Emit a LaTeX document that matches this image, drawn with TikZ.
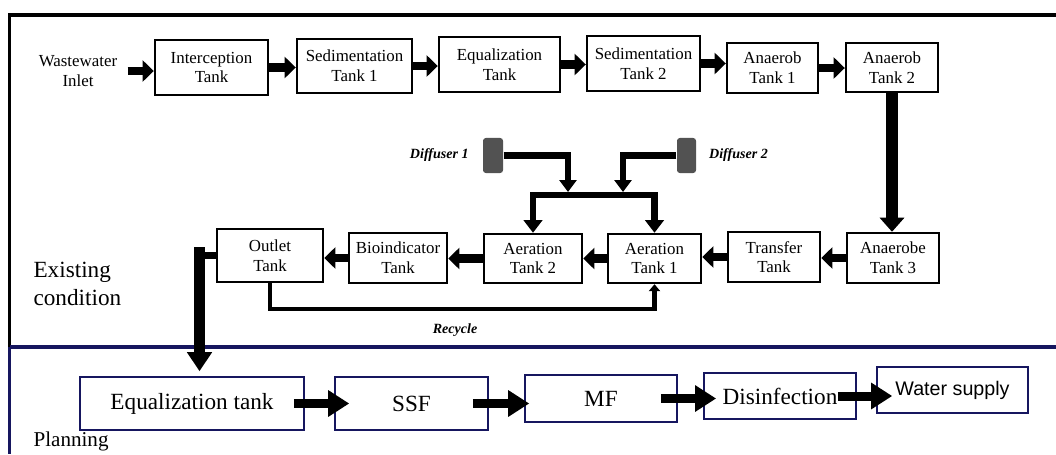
\documentclass[tikz,border=0pt]{standalone}
\usepackage{fontspec}
\setmainfont{Liberation Serif}
\newfontfamily\supplyfont{Liberation Sans}
\usetikzlibrary{calc,
arrows.meta,
positioning}
\definecolor{planblue}{RGB}{22,22,95}
\definecolor{diffgray}{RGB}{82,82,82}

\begin{document}
\begin{tikzpicture} [x=0.025cm, y=-0.025cm,
  thick,
  tank node/.style={rectangle, draw, line width=1.7pt,
      align=center, inner sep=0pt, font=\fontsize{12}{14}\selectfont},
  plan node/.style={rectangle, draw=planblue, line width=1.1pt,
      align=center, inner sep=0pt, font=\fontsize{16.5}{19}\selectfont},
  flow/.style={line width=6pt, -{Triangle[width=15pt, length=8pt]}},
  big flow/.style={line width=8pt, -{Triangle[width=17pt, length=10pt]}},
  air/.style={line width=4.3pt, -{Triangle[width=12pt, length=8.5pt]}},
  plan flow/.style={line width=6.4pt, -{Triangle[width=18pt, length=15pt]}},
  note/.style={font=\fontsize{10}{12}\selectfont\bfseries\itshape, inner sep=0pt}]

  \useasboundingbox (0,0) rectangle (1056,454);

  % frame
  \draw [line width=2.2pt] (1056,15) -- (9.5,15) -- (9.5,347);
  \draw [planblue, line width=2.2pt] (9.5,347) -- (9.5,454);
  \draw [planblue, line width=2.8pt] (9.5,347) -- (1056,347);

  \node [align=left, anchor=west, inner sep=0pt,
    font=\fontsize{16.5}{20}\selectfont
  ] (exist) at (33,284) {Existing\\condition};
  \node [anchor=west, inner sep=0pt,
    font=\fontsize{15}{18}\selectfont
  ] (plan) at (33,441) {Planning};

  % existing line, top row
  \node [align=center, inner sep=0pt,
    font=\fontsize{12}{14}\selectfont
  ] (inlet) at (78,71) {Wastewater\\Inlet};

  \node [tank node, minimum width=2.825cm, minimum height=1.375cm] (intercept) at (211.5,67.5) {Interception\\Tank};
  \node [tank node, minimum width=2.875cm, minimum height=1.35cm] (sed1) at (354.5,66) {Sedimentation\\Tank 1};
  \node [tank node, minimum width=3.025cm, minimum height=1.375cm] (equal) at (499.5,64.5) {Equalization\\Tank};
  \node [tank node, minimum width=2.825cm, minimum height=1.375cm] (sed2) at (643.5,63.5) {Sedimentation\\Tank 2};
  \node [tank node, minimum width=2.275cm, minimum height=1.25cm] (anaer1) at (772.5,68) {Anaerob\\Tank 1};
  \node [tank node, minimum width=2.3cm, minimum height=1.225cm] (anaer2) at (892,67.5) {Anaerob\\Tank 2};

  \draw [flow, shorten <=7pt] (inlet.east) -- (inlet.east -| intercept.west);
  \draw [flow] (intercept.east) -- (intercept.east -| sed1.west);
  \draw [flow] (sed1.east) -- (sed1.east -| equal.west);
  \draw [flow] (equal.east) -- (equal.east -| sed2.west);
  \draw [flow] (sed2.east) -- (sed2.east -| anaer1.west);
  \draw [flow] (anaer1.east) -- (anaer1.east -| anaer2.west);

  % existing line, bottom row
  \node [tank node, minimum width=2.3cm, minimum height=1.25cm] (anaer3) at (893,258) {Anaerobe\\Tank 3};
  \node [tank node, minimum width=2.3cm, minimum height=1.25cm] (transfer) at (774,257) {Transfer\\Tank};
  \node [tank node, minimum width=2.325cm, minimum height=1.225cm] (aer1) at (654.5,258.5) {Aeration\\Tank 1};
  \node [tank node, minimum width=2.45cm, minimum height=1.225cm] (aer2) at (533,258.5) {Aeration\\Tank 2};
  \node [tank node, minimum width=2.45cm, minimum height=1.25cm] (bio) at (398,258) {Bioindicator\\Tank};
  \node [tank node, minimum width=2.65cm, minimum height=1.325cm] (outlet) at (270,255.5) {Outlet\\Tank};

  \draw [big flow] (anaer2.south) -- (anaer2.south |- anaer3.north);
  \draw [flow] (anaer3.west) -- (anaer3.west -| transfer.east);
  \draw [flow] (transfer.west) -- (transfer.west -| aer1.east);
  \draw [flow] (aer1.west) -- (aer1.west -| aer2.east);
  \draw [flow] (aer2.west) -- (aer2.west -| bio.east);
  \draw [flow] (bio.west) -- (bio.west -| outlet.east);

  % air supply
  \node [rectangle, fill=diffgray, rounded corners=2pt,
    minimum width=.5cm, minimum height=.875cm, inner sep=0pt
  ] (dif1) at (493,155.5) {};
  \node [rectangle, fill=diffgray, rounded corners=2pt,
    minimum width=.475cm, minimum height=.875cm, inner sep=0pt
  ] (dif2) at (686.5,155.5) {};
  \node [note, left = .33cm of dif1] (dlab1) {Diffuser 1};
  \node [note, right = .3cm of dif2] (dlab2) {Diffuser 2};

  \coordinate (j1) at (568,192);
  \coordinate (j2) at (623,192);
  \coordinate (bar) at (600,195);
  \draw [air] (dif1.east) -| (j1);
  \draw [air] (dif2.west) -| (j2);
  \draw [air, {Triangle[width=13pt, length=9pt]}-{Triangle[width=13pt, length=9pt]}]
  (aer2.north) |- (aer1.north |- bar) -- (aer1.north);

  % recycle
  \draw [line width=3pt, -{Triangle[width=8pt, length=5pt]}]
  (outlet.south) |- ($(aer1.south) + (0,25)$) -- (aer1.south);
  \node [note] (recycle) at (455,330) {Recycle};

  % planning line
  \node [plan node, minimum width=5.6cm, minimum height=1.325cm] (eqt) at (192,403.5) {Equalization tank};
  \node [plan node, minimum width=3.825cm, minimum height=1.325cm] (ssf) at (411.5,403.5) {SSF};
  \node [plan node, minimum width=3.8cm, minimum height=1.175cm] (mf) at (601,398.5) {MF};
  \node [plan node, minimum width=3.8cm, minimum height=1.15cm] (disinf) at (780,396) {Disinfection};
  \node [plan node, minimum width=3.775cm, minimum height=1.15cm,
    font=\fontsize{14}{16}\supplyfont] (supply) at (952.5,390) {Water supply};

  \coordinate (drop) at (199.5,247);
  \draw [line width=4.3pt] (outlet.west) -- (outlet.west -| drop);
  \draw [line width=7.8pt, -{Triangle[width=17pt, length=13.5pt]}]
  (drop) -- ($(drop |- eqt.north) + (0,-5)$);

  \draw [plan flow, shorten <=-7.8pt, shorten >=-10.7pt] (eqt.east) -- (eqt.east -| ssf.west);
  \draw [plan flow, shorten <=-11.4pt, shorten >=-3.6pt] (ssf.east) -- (ssf.east -| mf.west);
  \draw [plan flow, shorten <=-12pt, shorten >=-9.2pt] (mf.east) -- (mf.east -| disinf.west);
  \draw [plan flow, shorten <=-13.5pt, shorten >=-11.4pt] (disinf.east) -- (disinf.east -| supply.west);

\end{tikzpicture}
\end{document}
